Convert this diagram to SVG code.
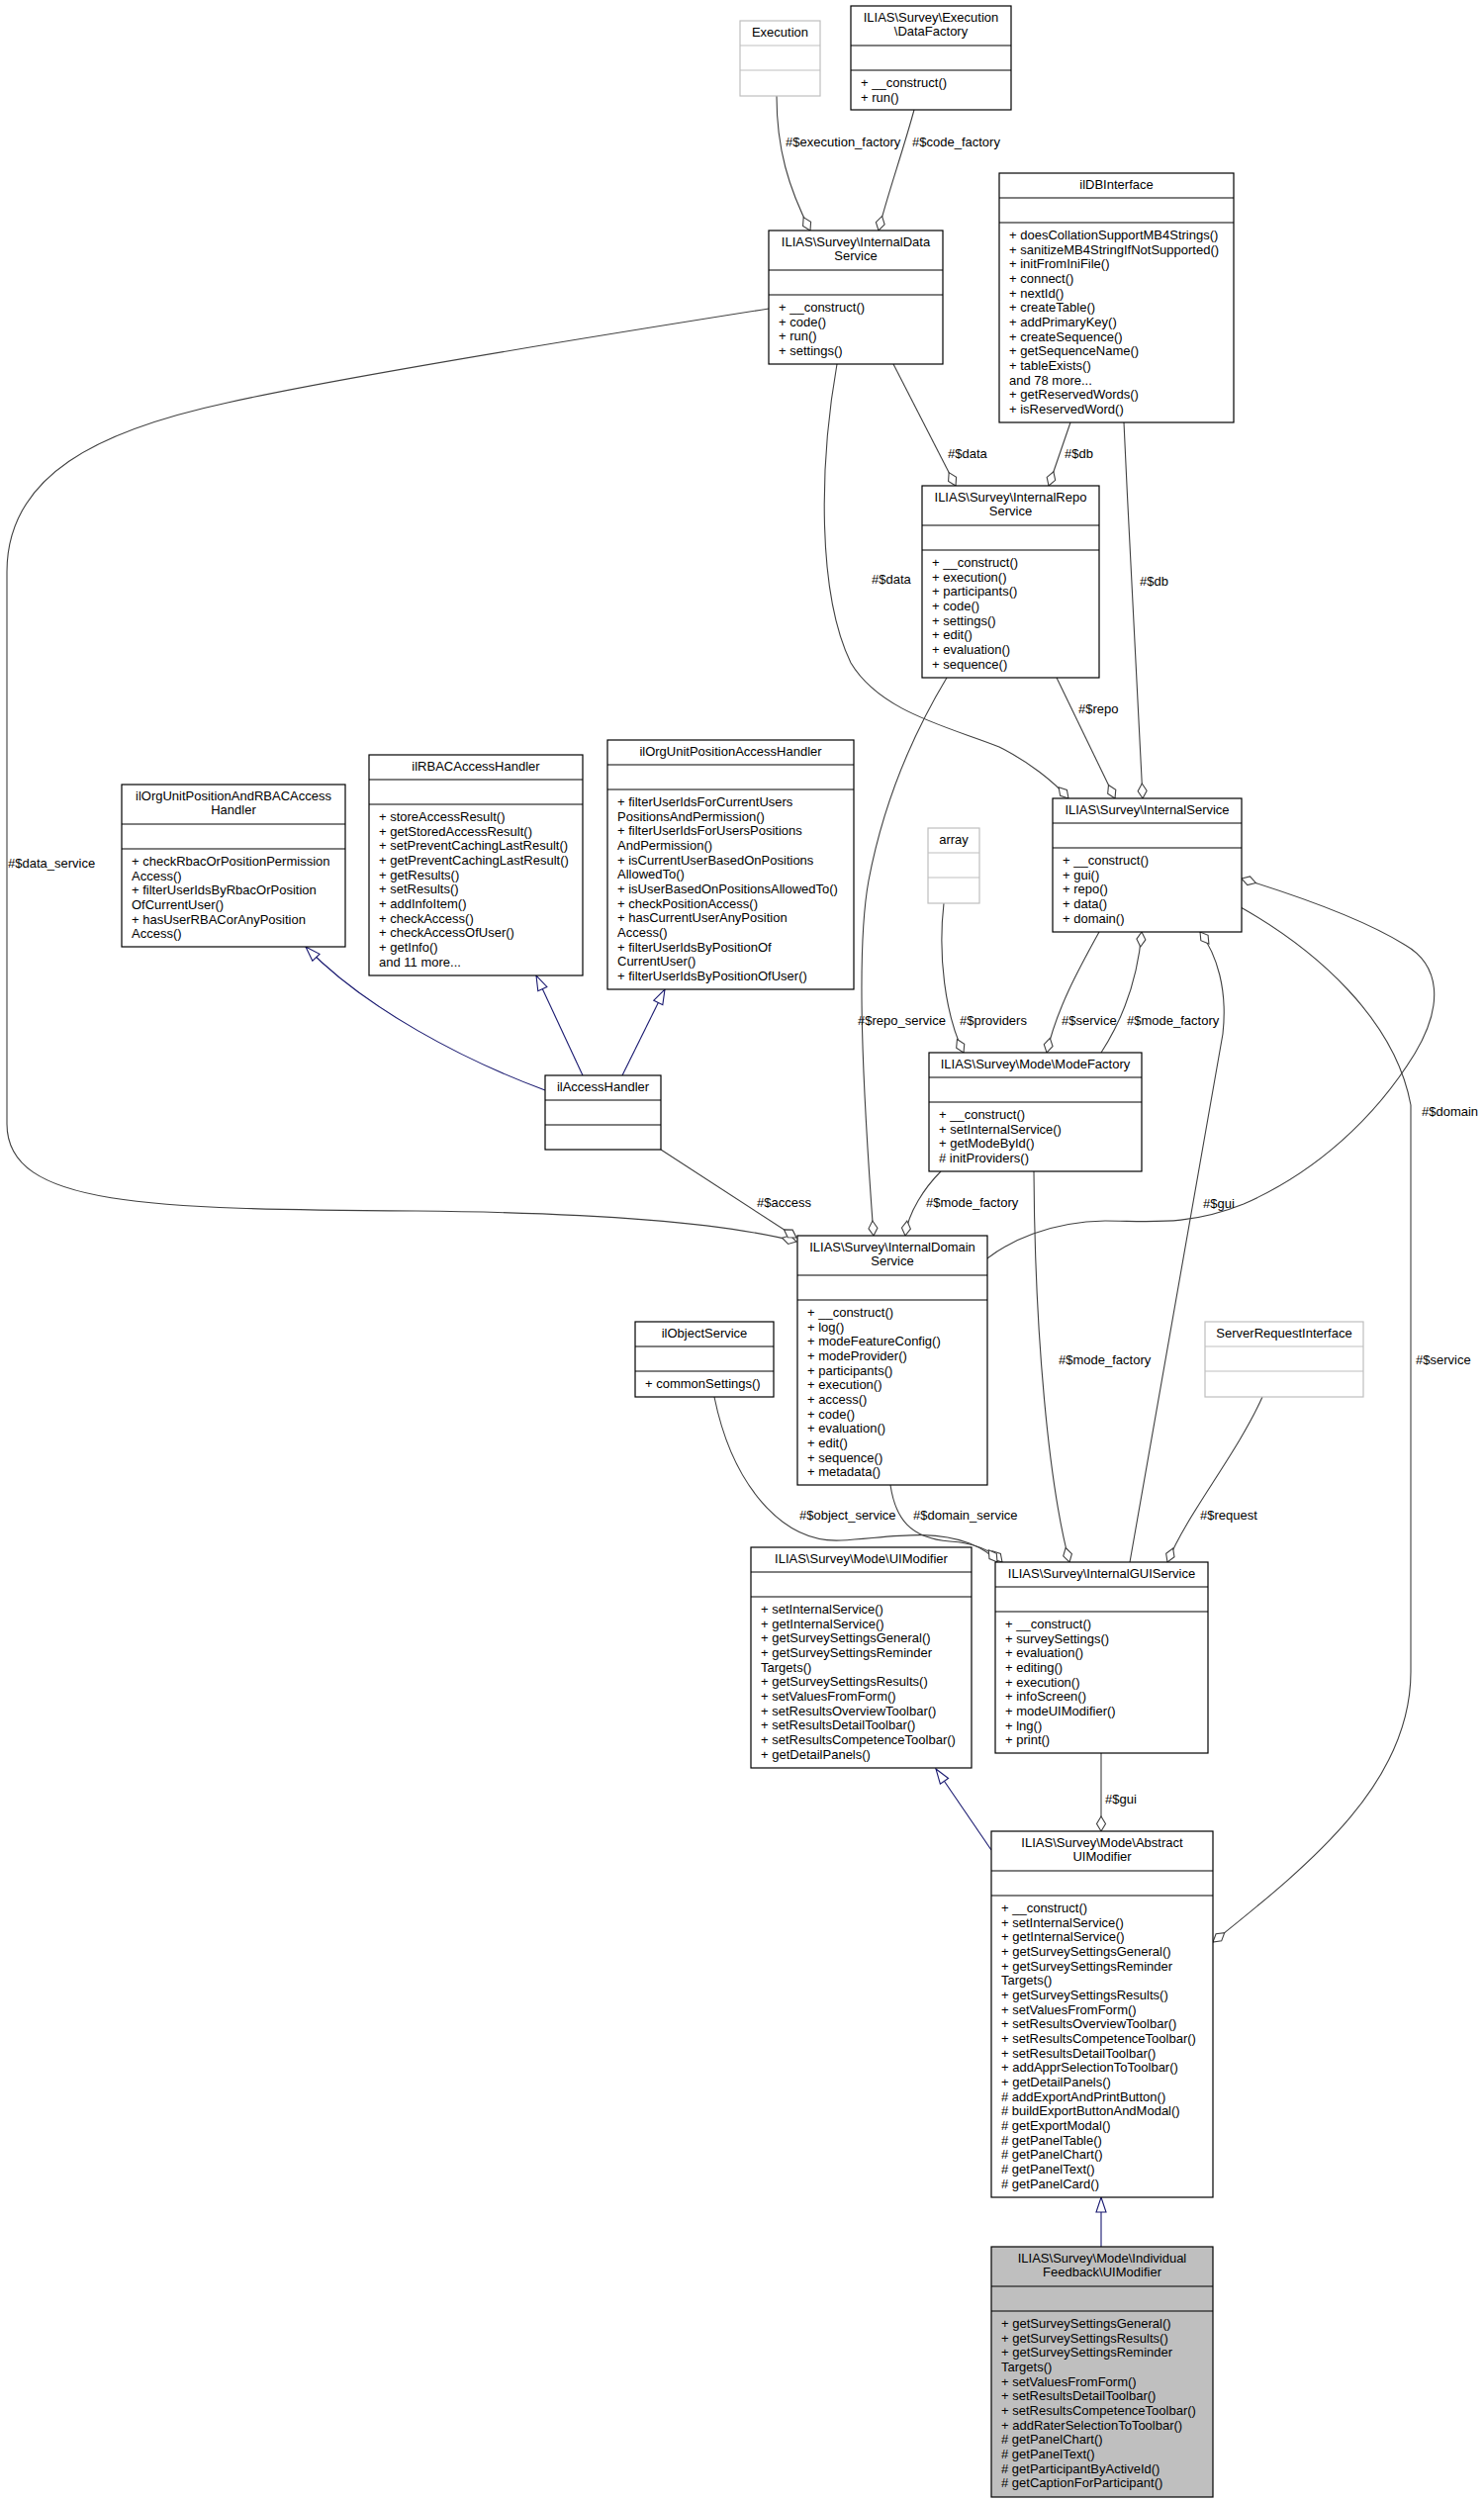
<svg xmlns="http://www.w3.org/2000/svg" width="1500" height="2529" viewBox="0 0 1500 2529">
<style>
text{font-family:"Liberation Sans",Arial,Helvetica,sans-serif;font-size:13px;fill:#000}
.c{text-anchor:middle}
.n rect{fill:#fff;stroke:#000;stroke-width:1.2}
.n line{stroke:#000;stroke-width:1.2}
.g rect{fill:#fff;stroke:#bfbfbf;stroke-width:1.2}
.g line{stroke:#bfbfbf;stroke-width:1.2}
.s rect{fill:#bfbfbf;stroke:#000;stroke-width:1.2}
.s line{stroke:#000;stroke-width:1.2}
.e path{fill:none;stroke:#404040;stroke-width:1.1;marker-end:url(#dia)}
.e path.p{marker-end:none}
.i path{fill:none;stroke:#191970;stroke-width:1.1;marker-end:url(#tri)}
</style>
<defs>
<marker id="dia" markerUnits="userSpaceOnUse" viewBox="-1 -6 17 12" markerWidth="17" markerHeight="12" refX="15" refY="0" orient="auto">
<path d="M0,0 L7.5,-4.5 L15,0 L7.5,4.5 Z" fill="#fff" stroke="#404040" stroke-width="1.1"/>
</marker>
<marker id="tri" markerUnits="userSpaceOnUse" viewBox="-1 -6 17 12" markerWidth="17" markerHeight="12" refX="15" refY="0" orient="auto">
<path d="M0,-5 L15,0 L0,5 Z" fill="#fff" stroke="#191970" stroke-width="1.1"/>
</marker>
</defs>
<rect width="1500" height="2529" fill="#fff"/>

<g id="edges" class="e">
<path d="M785,97 C785,150 797,190 819,233"/>
<path d="M924,111 C912,155 896,200 888,233"/>
<path d="M903,368 L966,491"/>
<path d="M1082,427 L1060,491"/>
<path d="M1136,427 C1142,560 1150,700 1155,807"/>
<path d="M846,368 C828,470 826,600 860,670 C890,720 960,735 1010,755 C1040,770 1065,790 1080,807"/>
<path d="M1068,685 L1127,807"/>
<path d="M957,685 C930,730 895,800 878,890 C865,960 872,1100 883,1249"/>
<path d="M954,913 C948,965 955,1025 974,1064"/>
<path d="M1111,942 C1090,980 1068,1020 1058,1064"/>
<path d="M1113,1064 C1135,1030 1150,990 1154,942"/>
<path d="M1142,1579 L1236,1045 C1241,1000 1230,965 1213,942"/>
<path d="M998,1272 C1020,1255 1060,1235 1117,1234 C1160,1234 1200,1240 1257,1217 C1330,1185 1390,1130 1430,1065 C1460,1015 1455,975 1420,955 C1380,930 1310,905 1255,888"/>
<path d="M1254,917 C1330,960 1410,1030 1426,1117 L1426,1690 C1426,1800 1330,1880 1226,1963"/>
<path d="M777,312 C600,340 350,380 230,407 C100,435 7,480 7,578 L7,1136 C7,1220 150,1222 421,1224 C620,1226 740,1238 805,1255"/>
<path d="M668,1162 L805,1251"/>
<path d="M951,1184 C935,1200 918,1225 915,1249"/>
<path d="M1045,1184 C1046,1350 1060,1500 1081,1579"/>
<path d="M900,1501 C905,1535 920,1555 960,1558 C990,1560 1005,1570 1013,1579"/>
<path d="M722,1412 C740,1500 790,1560 850,1557 C900,1554 940,1545 980,1560 C995,1566 1003,1572 1008,1579"/>
<path d="M1276,1412 C1250,1470 1200,1530 1180,1579"/>
<path d="M1113,1772 L1113,1851"/>
<text x="794" y="147.5">#$execution_factory</text>
<text x="922" y="147.5">#$code_factory</text>
<text x="958" y="462.5">#$data</text>
<text x="1076" y="462.5">#$db</text>
<text x="1152" y="591.5">#$db</text>
<text x="881" y="590">#$data</text>
<text x="1090" y="720.5">#$repo</text>
<text x="867" y="1035.5">#$repo_service</text>
<text x="970" y="1035.5">#$providers</text>
<text x="1073" y="1035.5">#$service</text>
<text x="1139" y="1035.5">#$mode_factory</text>
<text x="8" y="876.5">#$data_service</text>
<text x="765" y="1220">#$access</text>
<text x="936" y="1220">#$mode_factory</text>
<text x="1216" y="1220.5">#$gui</text>
<text x="1437" y="1127.5">#$domain</text>
<text x="1070" y="1378.5">#$mode_factory</text>
<text x="1431" y="1378.5">#$service</text>
<text x="808" y="1535.5">#$object_service</text>
<text x="923" y="1535.5">#$domain_service</text>
<text x="1213" y="1535.5">#$request</text>
<text x="1117" y="1822.5">#$gui</text>
</g>
<g id="inherit" class="i">
<path d="M551,1102 C470,1072 370,1020 309,957"/>
<path d="M589,1087 L542,986"/>
<path d="M629,1087 L672,1000"/>
<path d="M1002,1870 L946,1788"/>
<path d="M1113,2271 L1113,2221"/>
</g>

<g id="Execution" class="g">
<rect x="748" y="21" width="81" height="76"/>
<line x1="748" y1="46" x2="829" y2="46"/><line x1="748" y1="71" x2="829" y2="71"/>
<text class="c" x="788.5" y="37">Execution</text>
</g>

<g id="DataFactory" class="n">
<rect x="860" y="6" width="162" height="105"/>
<line x1="860" y1="46" x2="1022" y2="46"/><line x1="860" y1="71" x2="1022" y2="71"/>
<text class="c" x="941" y="21.5">ILIAS\Survey\Execution</text>
<text class="c" x="941" y="36">\DataFactory</text>
<text x="870" y="88">+ __construct()</text>
<text x="870" y="102.7">+ run()</text>
</g>

<g id="InternalDataService" class="n">
<rect x="777" y="233" width="176" height="135"/>
<line x1="777" y1="273" x2="953" y2="273"/><line x1="777" y1="298" x2="953" y2="298"/>
<text class="c" x="865" y="248.5">ILIAS\Survey\InternalData</text>
<text class="c" x="865" y="263">Service</text>
<text x="787" y="315">+ __construct()</text>
<text x="787" y="329.7">+ code()</text>
<text x="787" y="344.3">+ run()</text>
<text x="787" y="359">+ settings()</text>
</g>

<g id="ilDBInterface" class="n">
<rect x="1010" y="175" width="237" height="252"/>
<line x1="1010" y1="200" x2="1247" y2="200"/><line x1="1010" y1="225" x2="1247" y2="225"/>
<text class="c" x="1128.5" y="191">ilDBInterface</text>
<text x="1020" y="242">+ doesCollationSupportMB4Strings()</text>
<text x="1020" y="256.7">+ sanitizeMB4StringIfNotSupported()</text>
<text x="1020" y="271.3">+ initFromIniFile()</text>
<text x="1020" y="286">+ connect()</text>
<text x="1020" y="300.7">+ nextId()</text>
<text x="1020" y="315.3">+ createTable()</text>
<text x="1020" y="330">+ addPrimaryKey()</text>
<text x="1020" y="344.7">+ createSequence()</text>
<text x="1020" y="359.3">+ getSequenceName()</text>
<text x="1020" y="374">+ tableExists()</text>
<text x="1020" y="388.7">and 78 more...</text>
<text x="1020" y="403.3">+ getReservedWords()</text>
<text x="1020" y="418">+ isReservedWord()</text>
</g>

<g id="InternalRepoService" class="n">
<rect x="932" y="491" width="179" height="194"/>
<line x1="932" y1="531" x2="1111" y2="531"/><line x1="932" y1="556" x2="1111" y2="556"/>
<text class="c" x="1021.5" y="506.5">ILIAS\Survey\InternalRepo</text>
<text class="c" x="1021.5" y="521">Service</text>
<text x="942" y="573">+ __construct()</text>
<text x="942" y="587.7">+ execution()</text>
<text x="942" y="602.3">+ participants()</text>
<text x="942" y="617">+ code()</text>
<text x="942" y="631.7">+ settings()</text>
<text x="942" y="646.3">+ edit()</text>
<text x="942" y="661">+ evaluation()</text>
<text x="942" y="675.7">+ sequence()</text>
</g>

<g id="InternalService" class="n">
<rect x="1064" y="807" width="191" height="135"/>
<line x1="1064" y1="832" x2="1255" y2="832"/><line x1="1064" y1="857" x2="1255" y2="857"/>
<text class="c" x="1159.5" y="823">ILIAS\Survey\InternalService</text>
<text x="1074" y="874">+ __construct()</text>
<text x="1074" y="888.7">+ gui()</text>
<text x="1074" y="903.3">+ repo()</text>
<text x="1074" y="918">+ data()</text>
<text x="1074" y="932.7">+ domain()</text>
</g>

<g id="array" class="g">
<rect x="938" y="837" width="52" height="76"/>
<line x1="938" y1="862" x2="990" y2="862"/><line x1="938" y1="887" x2="990" y2="887"/>
<text class="c" x="964" y="853">array</text>
</g>

<g id="ilOrgUnitPositionAndRBACAccessHandler" class="n">
<rect x="123" y="793" width="226" height="164"/>
<line x1="123" y1="833" x2="349" y2="833"/><line x1="123" y1="858" x2="349" y2="858"/>
<text class="c" x="236" y="808.5">ilOrgUnitPositionAndRBACAccess</text>
<text class="c" x="236" y="823">Handler</text>
<text x="133" y="875">+ checkRbacOrPositionPermission</text>
<text x="133" y="889.7">Access()</text>
<text x="133" y="904.3">+ filterUserIdsByRbacOrPosition</text>
<text x="133" y="919">OfCurrentUser()</text>
<text x="133" y="933.7">+ hasUserRBACorAnyPosition</text>
<text x="133" y="948.3">Access()</text>
</g>

<g id="ilRBACAccessHandler" class="n">
<rect x="373" y="763" width="216" height="223"/>
<line x1="373" y1="788" x2="589" y2="788"/><line x1="373" y1="813" x2="589" y2="813"/>
<text class="c" x="481" y="779">ilRBACAccessHandler</text>
<text x="383" y="830">+ storeAccessResult()</text>
<text x="383" y="844.7">+ getStoredAccessResult()</text>
<text x="383" y="859.3">+ setPreventCachingLastResult()</text>
<text x="383" y="874">+ getPreventCachingLastResult()</text>
<text x="383" y="888.7">+ getResults()</text>
<text x="383" y="903.3">+ setResults()</text>
<text x="383" y="918">+ addInfoItem()</text>
<text x="383" y="932.7">+ checkAccess()</text>
<text x="383" y="947.3">+ checkAccessOfUser()</text>
<text x="383" y="962">+ getInfo()</text>
<text x="383" y="976.7">and 11 more...</text>
</g>

<g id="ilOrgUnitPositionAccessHandler" class="n">
<rect x="614" y="748" width="249" height="252"/>
<line x1="614" y1="773" x2="863" y2="773"/><line x1="614" y1="798" x2="863" y2="798"/>
<text class="c" x="738.5" y="764">ilOrgUnitPositionAccessHandler</text>
<text x="624" y="815">+ filterUserIdsForCurrentUsers</text>
<text x="624" y="829.7">PositionsAndPermission()</text>
<text x="624" y="844.3">+ filterUserIdsForUsersPositions</text>
<text x="624" y="859">AndPermission()</text>
<text x="624" y="873.7">+ isCurrentUserBasedOnPositions</text>
<text x="624" y="888.3">AllowedTo()</text>
<text x="624" y="903">+ isUserBasedOnPositionsAllowedTo()</text>
<text x="624" y="917.7">+ checkPositionAccess()</text>
<text x="624" y="932.3">+ hasCurrentUserAnyPosition</text>
<text x="624" y="947">Access()</text>
<text x="624" y="961.7">+ filterUserIdsByPositionOf</text>
<text x="624" y="976.3">CurrentUser()</text>
<text x="624" y="991">+ filterUserIdsByPositionOfUser()</text>
</g>

<g id="ilAccessHandler" class="n">
<rect x="551" y="1087" width="117" height="75"/>
<line x1="551" y1="1112" x2="668" y2="1112"/><line x1="551" y1="1137" x2="668" y2="1137"/>
<text class="c" x="609.5" y="1103">ilAccessHandler</text>
</g>

<g id="ModeFactory" class="n">
<rect x="939" y="1064" width="215" height="120"/>
<line x1="939" y1="1089" x2="1154" y2="1089"/><line x1="939" y1="1114" x2="1154" y2="1114"/>
<text class="c" x="1046.5" y="1080">ILIAS\Survey\Mode\ModeFactory</text>
<text x="949" y="1131">+ __construct()</text>
<text x="949" y="1145.7">+ setInternalService()</text>
<text x="949" y="1160.3">+ getModeById()</text>
<text x="949" y="1175"># initProviders()</text>
</g>

<g id="InternalDomainService" class="n">
<rect x="806" y="1249" width="192" height="252"/>
<line x1="806" y1="1289" x2="998" y2="1289"/><line x1="806" y1="1314" x2="998" y2="1314"/>
<text class="c" x="902" y="1264.5">ILIAS\Survey\InternalDomain</text>
<text class="c" x="902" y="1279">Service</text>
<text x="816" y="1331">+ __construct()</text>
<text x="816" y="1345.7">+ log()</text>
<text x="816" y="1360.3">+ modeFeatureConfig()</text>
<text x="816" y="1375">+ modeProvider()</text>
<text x="816" y="1389.7">+ participants()</text>
<text x="816" y="1404.3">+ execution()</text>
<text x="816" y="1419">+ access()</text>
<text x="816" y="1433.7">+ code()</text>
<text x="816" y="1448.3">+ evaluation()</text>
<text x="816" y="1463">+ edit()</text>
<text x="816" y="1477.7">+ sequence()</text>
<text x="816" y="1492.3">+ metadata()</text>
</g>

<g id="ilObjectService" class="n">
<rect x="642" y="1336" width="140" height="76"/>
<line x1="642" y1="1361" x2="782" y2="1361"/><line x1="642" y1="1386" x2="782" y2="1386"/>
<text class="c" x="712" y="1352">ilObjectService</text>
<text x="652" y="1403">+ commonSettings()</text>
</g>

<g id="ServerRequestInterface" class="g">
<rect x="1218" y="1336" width="160" height="76"/>
<line x1="1218" y1="1361" x2="1378" y2="1361"/><line x1="1218" y1="1386" x2="1378" y2="1386"/>
<text class="c" x="1298" y="1352">ServerRequestInterface</text>
</g>

<g id="UIModifier" class="n">
<rect x="759" y="1564" width="223" height="223"/>
<line x1="759" y1="1589" x2="982" y2="1589"/><line x1="759" y1="1614" x2="982" y2="1614"/>
<text class="c" x="870.5" y="1580">ILIAS\Survey\Mode\UIModifier</text>
<text x="769" y="1631">+ setInternalService()</text>
<text x="769" y="1645.7">+ getInternalService()</text>
<text x="769" y="1660.3">+ getSurveySettingsGeneral()</text>
<text x="769" y="1675">+ getSurveySettingsReminder</text>
<text x="769" y="1689.7">Targets()</text>
<text x="769" y="1704.3">+ getSurveySettingsResults()</text>
<text x="769" y="1719">+ setValuesFromForm()</text>
<text x="769" y="1733.7">+ setResultsOverviewToolbar()</text>
<text x="769" y="1748.3">+ setResultsDetailToolbar()</text>
<text x="769" y="1763">+ setResultsCompetenceToolbar()</text>
<text x="769" y="1777.7">+ getDetailPanels()</text>
</g>

<g id="InternalGUIService" class="n">
<rect x="1006" y="1579" width="215" height="193"/>
<line x1="1006" y1="1604" x2="1221" y2="1604"/><line x1="1006" y1="1629" x2="1221" y2="1629"/>
<text class="c" x="1113.5" y="1595">ILIAS\Survey\InternalGUIService</text>
<text x="1016" y="1646">+ __construct()</text>
<text x="1016" y="1660.7">+ surveySettings()</text>
<text x="1016" y="1675.3">+ evaluation()</text>
<text x="1016" y="1690">+ editing()</text>
<text x="1016" y="1704.7">+ execution()</text>
<text x="1016" y="1719.3">+ infoScreen()</text>
<text x="1016" y="1734">+ modeUIModifier()</text>
<text x="1016" y="1748.7">+ lng()</text>
<text x="1016" y="1763.3">+ print()</text>
</g>

<g id="AbstractUIModifier" class="n">
<rect x="1002" y="1851" width="224" height="370"/>
<line x1="1002" y1="1891" x2="1226" y2="1891"/><line x1="1002" y1="1916" x2="1226" y2="1916"/>
<text class="c" x="1114" y="1866.5">ILIAS\Survey\Mode\Abstract</text>
<text class="c" x="1114" y="1881">UIModifier</text>
<text x="1012" y="1933">+ __construct()</text>
<text x="1012" y="1947.7">+ setInternalService()</text>
<text x="1012" y="1962.3">+ getInternalService()</text>
<text x="1012" y="1977">+ getSurveySettingsGeneral()</text>
<text x="1012" y="1991.7">+ getSurveySettingsReminder</text>
<text x="1012" y="2006.3">Targets()</text>
<text x="1012" y="2021">+ getSurveySettingsResults()</text>
<text x="1012" y="2035.7">+ setValuesFromForm()</text>
<text x="1012" y="2050.3">+ setResultsOverviewToolbar()</text>
<text x="1012" y="2065">+ setResultsCompetenceToolbar()</text>
<text x="1012" y="2079.7">+ setResultsDetailToolbar()</text>
<text x="1012" y="2094.3">+ addApprSelectionToToolbar()</text>
<text x="1012" y="2109">+ getDetailPanels()</text>
<text x="1012" y="2123.7"># addExportAndPrintButton()</text>
<text x="1012" y="2138.3"># buildExportButtonAndModal()</text>
<text x="1012" y="2153"># getExportModal()</text>
<text x="1012" y="2167.7"># getPanelTable()</text>
<text x="1012" y="2182.3"># getPanelChart()</text>
<text x="1012" y="2197"># getPanelText()</text>
<text x="1012" y="2211.7"># getPanelCard()</text>
</g>

<g id="IndividualFeedbackUIModifier" class="s">
<rect x="1002" y="2271" width="224" height="253"/>
<line x1="1002" y1="2311" x2="1226" y2="2311"/><line x1="1002" y1="2336" x2="1226" y2="2336"/>
<text class="c" x="1114" y="2286.5">ILIAS\Survey\Mode\Individual</text>
<text class="c" x="1114" y="2301">Feedback\UIModifier</text>
<text x="1012" y="2353">+ getSurveySettingsGeneral()</text>
<text x="1012" y="2367.7">+ getSurveySettingsResults()</text>
<text x="1012" y="2382.3">+ getSurveySettingsReminder</text>
<text x="1012" y="2397">Targets()</text>
<text x="1012" y="2411.7">+ setValuesFromForm()</text>
<text x="1012" y="2426.3">+ setResultsDetailToolbar()</text>
<text x="1012" y="2441">+ setResultsCompetenceToolbar()</text>
<text x="1012" y="2455.7">+ addRaterSelectionToToolbar()</text>
<text x="1012" y="2470.3"># getPanelChart()</text>
<text x="1012" y="2485"># getPanelText()</text>
<text x="1012" y="2499.7"># getParticipantByActiveId()</text>
<text x="1012" y="2514.3"># getCaptionForParticipant()</text>
</g>
</svg>
